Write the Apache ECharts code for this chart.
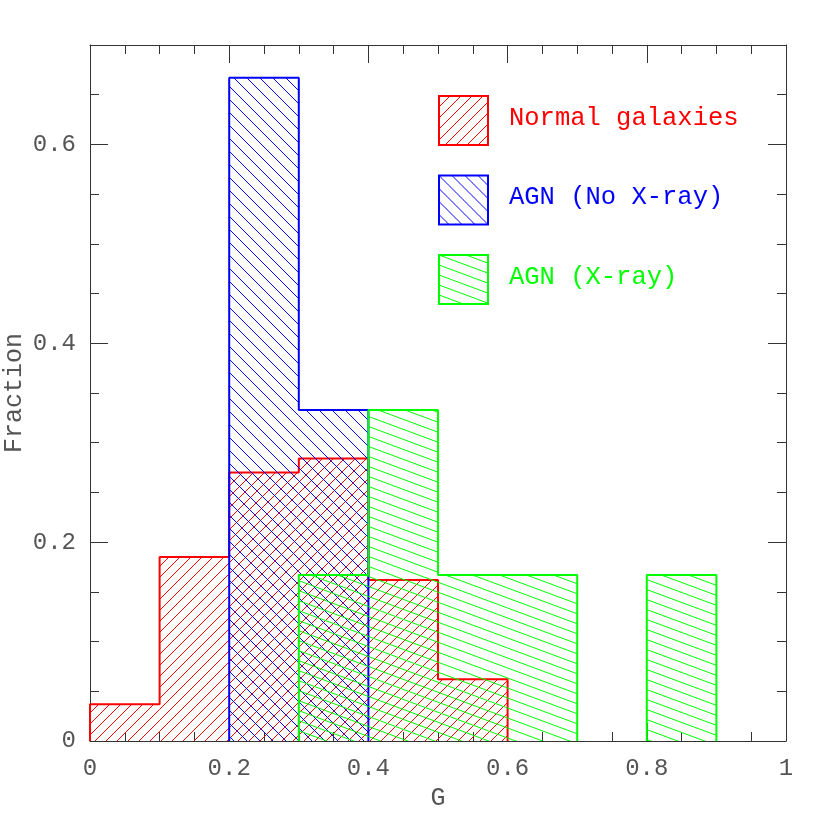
<!DOCTYPE html>
<html><head><meta charset="utf-8">
<script src="https://cdn.jsdelivr.net/npm/echarts@6/dist/echarts.min.js"></script>
<style>html,body{margin:0;padding:0;background:#fff}#c{width:830px;height:830px}</style>
</head><body><div id="c"></div>
<script>
// ---- data ----
const binStarts = [0, 0.1, 0.2, 0.3, 0.4, 0.5, 0.6, 0.7, 0.8, 0.9];
const binWidth = 0.1;
const normalGalaxies = [0.037, 0.185, 0.270, 0.284, 0.162, 0.062, 0, 0, 0, 0];
const agnNoXray = [0, 0, 0.667, 0.333, 0, 0, 0, 0, 0, 0];
const agnXray = [0, 0, 0, 0.167, 0.333, 0.167, 0.167, 0, 0.167, 0];
const seriesNames = ['Normal galaxies', 'AGN (No X-ray)', 'AGN (X-ray)'];
const xRange = [0, 1];
const yRange = [0, 0.7];

// ---- styles ----
const colors = ['#ff0000', '#0000ff', '#00ff00'];
const FONT = 'Liberation Mono';
const AX = '#333333';
const TXT = '#555555';

function hatch(type, color) {
  const c = document.createElement('canvas');
  let w, h;
  if (type === 'fwd') { w = h = 11; }
  else if (type === 'back') { w = h = 13; }
  else { w = 27; h = 10; }
  c.width = w; c.height = h;
  const g = c.getContext('2d');
  g.strokeStyle = color; g.lineWidth = 1;
  g.beginPath();
  if (type === 'fwd') { for (const o of [-w, 0, w]) { g.moveTo(o, h); g.lineTo(o + w, 0); } }
  else if (type === 'back') { for (const o of [-w, 0, w]) { g.moveTo(o, 0); g.lineTo(o + w, h); } }
  else { for (const o of [-h, 0, h]) { g.moveTo(0, o); g.lineTo(w, o + h); } }
  g.stroke();
  return c;
}
const patterns = [hatch('fwd', colors[0]), hatch('back', colors[1]), hatch('shallow', colors[2])];

function fillSeries(name, vals, pattern, z) {
  return {
    type: 'custom', name, xAxisIndex: 0, yAxisIndex: 0, z, silent: true, animation: false,
    data: vals.map((v, i) => [binStarts[i], binStarts[i] + binWidth, v]).filter(d => d[2] > 0),
    encode: { x: [0, 1], y: 2 },
    renderItem: (params, api) => {
      const p0 = api.coord([api.value(0), 0]);
      const p1 = api.coord([api.value(1), api.value(2)]);
      return {
        type: 'rect',
        shape: { x: p0[0], y: p1[1], width: p1[0] - p0[0], height: p0[1] - p1[1] },
        style: { fill: { image: pattern, repeat: 'repeat' } }
      };
    }
  };
}

function outlineRuns(vals) {
  const runs = []; let cur = null;
  for (let i = 0; i < vals.length; i++) {
    const v = vals[i], x0 = binStarts[i], x1 = x0 + binWidth;
    if (v > 0) {
      if (!cur) { cur = [[x0, 0]]; runs.push(cur); }
      cur.push([x0, v]); cur.push([x1, v]);
    } else if (cur) {
      cur.push([x0, 0]); cur = null;
    }
  }
  if (cur) cur.push([binStarts[vals.length - 1] + binWidth, 0]);
  return runs;
}
function outlineSeries(name, vals, color, z) {
  return outlineRuns(vals).map(run => ({
    type: 'line', name, data: run, xAxisIndex: 0, yAxisIndex: 0, z, silent: true,
    showSymbol: false, symbol: 'none', animation: false,
    lineStyle: { color, width: 2 }
  }));
}

const allVals = [normalGalaxies, agnNoXray, agnXray];
let series = [];
allVals.forEach((vals, k) => {
  series.push(fillSeries(seriesNames[k], vals, patterns[k], 2 + k * 2));
  series = series.concat(outlineSeries(seriesNames[k], vals, colors[k], 3 + k * 2));
});

function xAx(pos, labels) {
  return {
    type: 'value', position: pos, min: xRange[0], max: xRange[1], interval: 0.2,
    axisLine: { show: true, onZero: false, lineStyle: { color: AX, width: 1 } },
    axisTick: { show: true, inside: true, length: 18, lineStyle: { color: AX } },
    minorTick: { show: true, splitNumber: 4, length: 9, lineStyle: { color: AX } },
    splitLine: { show: false },
    axisLabel: { show: labels, margin: 16, color: TXT, fontFamily: FONT, fontSize: 24 },
    name: labels ? 'G' : '', nameLocation: 'middle', nameGap: 45, nameMoveOverlap: false,
    nameTextStyle: { color: TXT, fontFamily: FONT, fontSize: 25 }
  };
}
function yAx(pos, labels, interval, len, showLine) {
  return {
    type: 'value', position: pos, min: yRange[0], max: yRange[1], interval,
    axisLine: { show: showLine, onZero: false, lineStyle: { color: AX, width: 1 } },
    axisTick: { show: true, inside: true, length: len, lineStyle: { color: AX } },
    splitLine: { show: false },
    axisLabel: { show: labels, margin: 14, color: TXT, fontFamily: FONT, fontSize: 24, showMaxLabel: false },
    name: labels ? 'Fraction' : '', nameLocation: 'middle', nameGap: 63, nameMoveOverlap: false,
    nameTextStyle: { color: TXT, fontFamily: FONT, fontSize: 25 }
  };
}

const graphic = [];
seriesNames.forEach((n, k) => {
  const top = 95 + k * 79.5;
  graphic.push({ type: 'rect', left: 438, top: top, z: 100,
    shape: { x: 0, y: 0, width: 49, height: 49 },
    style: { fill: { image: patterns[k], repeat: 'repeat' }, stroke: colors[k], lineWidth: 2 } });
  graphic.push({ type: 'text', left: 509, top: top + 10, z: 100,
    style: { text: n, fill: colors[k], font: '25.5px "' + FONT + '"' } });
});

const chart = echarts.init(document.getElementById('c'), null, { renderer: 'canvas' });
chart.setOption({
  animation: false,
  backgroundColor: '#ffffff',
  grid: { left: 90, right: 44, top: 45, bottom: 89, containLabel: false, outerBoundsMode: 'none' },
  xAxis: [xAx('bottom', true), xAx('top', false)],
  yAxis: [yAx('left', true, 0.2, 18, true), yAx('right', false, 0.2, 18, true),
          yAx('left', false, 0.05, 9, false), yAx('right', false, 0.05, 9, false)],
  series,
  graphic
});
</script></body></html>
